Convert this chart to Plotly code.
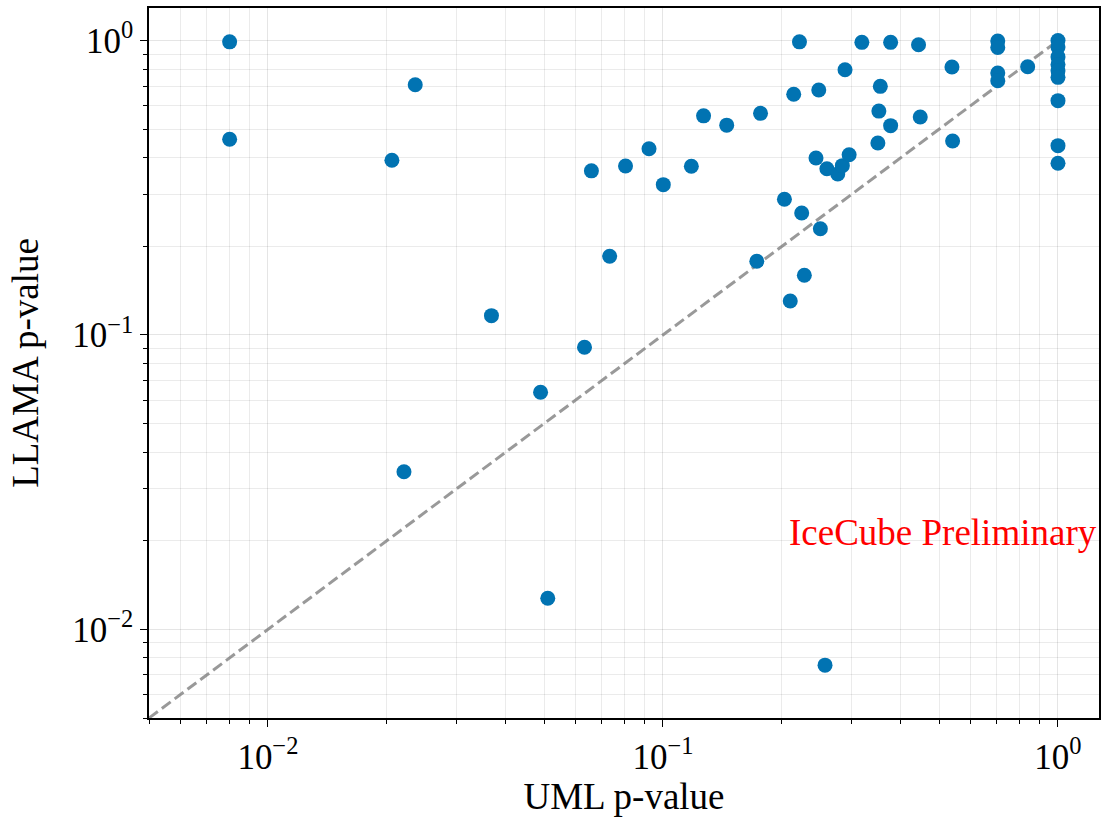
import math
import plotly.graph_objects as go

# UML p-values (x) and LLAMA p-values (y)
uml_p = [0.008, 0.008, 0.0206, 0.0236, 0.0221, 0.0368, 0.049, 0.0511, 0.0633, 0.0733,
         0.0659, 0.0804, 0.0922, 0.1002, 0.118, 0.1267, 0.145, 0.1766, 0.1728, 0.203,
         0.210, 0.2143, 0.2216, 0.2245, 0.228, 0.244, 0.248, 0.2503, 0.2572, 0.26,
         0.277, 0.2845, 0.289, 0.296, 0.3188, 0.350, 0.352, 0.355, 0.377, 0.377,
         0.4436, 0.448, 0.539, 0.541, 0.704, 0.704, 0.704, 0.704, 0.838,
         1.0, 1.0, 1.0, 1.0, 1.0, 1.0, 1.0, 1.0, 1.0]
llama_p = [0.99, 0.462, 0.392, 0.708, 0.0343, 0.1163, 0.0639, 0.01276, 0.0908, 0.185,
           0.361, 0.375, 0.429, 0.324, 0.374, 0.555, 0.516, 0.566, 0.178, 0.289,
           0.1305, 0.657, 0.99, 0.2597, 0.1595, 0.399, 0.679, 0.2296, 0.00756, 0.367,
           0.352, 0.376, 0.796, 0.4096, 0.986, 0.449, 0.576, 0.699, 0.986, 0.514,
           0.968, 0.550, 0.813, 0.456, 0.996, 0.948, 0.776, 0.730, 0.815,
           1.0, 0.95, 0.88, 0.83, 0.79, 0.75, 0.625, 0.4395, 0.383]

diag = [0.005, 1.0]
x_range = [0.005, 1.27]
y_range = [0.005, 1.29]
major_vals = [0.01, 0.1, 1.0]
major_text = ["10<sup>−2</sup>", "10<sup>−1</sup>", "10<sup>0</sup>"]
minor_vals = [m * d for d in [0.001, 0.01, 0.1, 1.0] for m in range(2, 10)]

fig = go.Figure()
fig.add_trace(go.Scatter(x=diag, y=diag, mode="lines",
                         line=dict(color="rgba(128,128,128,0.8)", width=3, dash="11px,5px"),
                         showlegend=False, hoverinfo="skip"))
fig.add_trace(go.Scatter(x=uml_p, y=llama_p, mode="markers",
                         marker=dict(color="#0173B2", size=15, line=dict(width=0)),
                         showlegend=False))

font_family = "Liberation Serif, Times New Roman, serif"
axis_common = dict(
    type="log",
    showline=True, linecolor="black", linewidth=1.5, mirror=True,
    ticks="outside", ticklen=7, tickwidth=1.2, tickcolor="black",
    tickmode="array", tickvals=major_vals, ticktext=major_text,
    tickfont=dict(family=font_family, size=35, color="black"),
    showgrid=True, gridcolor="rgba(0,0,0,0.10)", gridwidth=1,
    zeroline=False,
    minor=dict(tickmode="array", tickvals=minor_vals, ticks="outside", ticklen=4,
               tickwidth=1, tickcolor="black", showgrid=True,
               gridcolor="rgba(0,0,0,0.08)", gridwidth=1),
)

fig.update_xaxes(**axis_common, range=[math.log10(x_range[0]), math.log10(x_range[1])],
                 title=dict(text="UML p-value", font=dict(family=font_family, size=37, color="black"),
                            standoff=8))
fig.update_yaxes(**axis_common, range=[math.log10(y_range[0]), math.log10(y_range[1])],
                 title=dict(text="LLAMA p-value", font=dict(family=font_family, size=37, color="black"),
                            standoff=22))

fig.add_annotation(text="IceCube Preliminary", xref="paper", yref="paper",
                   x=1.0, y=0.261, xanchor="right", yanchor="middle", showarrow=False,
                   font=dict(family=font_family, size=37, color="red"))

fig.update_layout(
    width=1103, height=817,
    margin=dict(l=149, r=4, t=8, b=99, autoexpand=False),
    plot_bgcolor="white", paper_bgcolor="white",
)

fig.write_html("out.html")
